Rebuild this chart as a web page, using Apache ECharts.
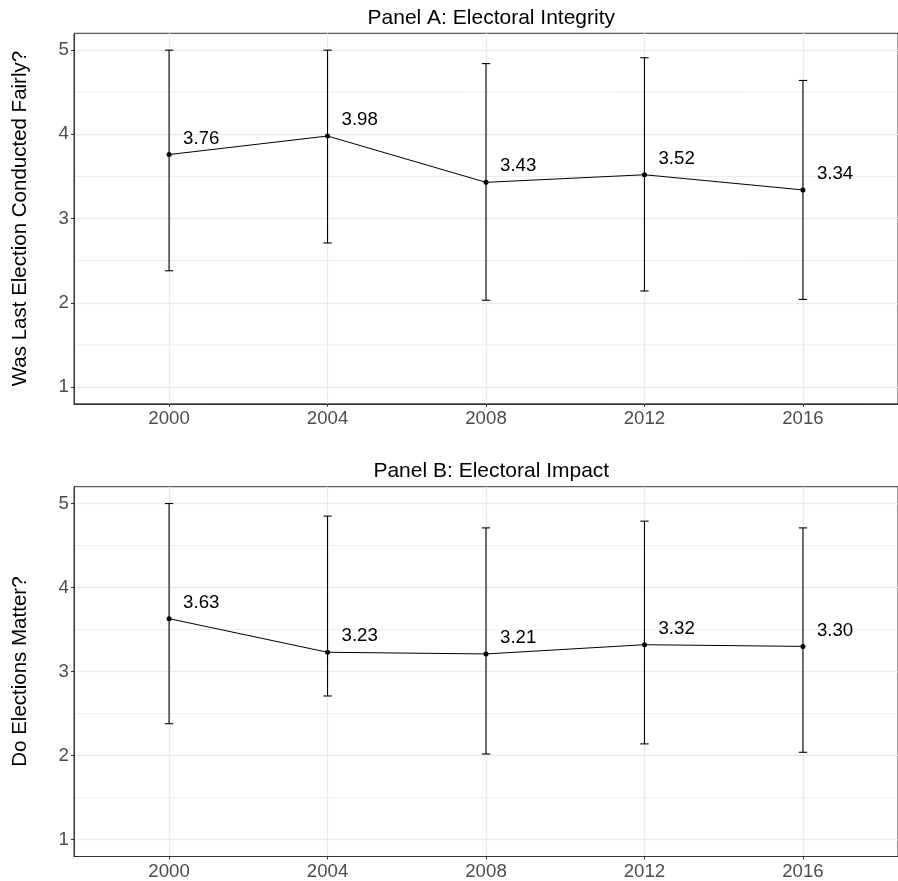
<!DOCTYPE html>
<html>
<head>
<meta charset="utf-8">
<script src="https://cdn.jsdelivr.net/npm/echarts@6/dist/echarts.min.js"></script>
<style>
  html, body { margin: 0; padding: 0; background: #fff; }
  #chart { width: 898px; height: 881px; }
</style>
</head>
<body>
<div id="chart"></div>
<script>
// Survey years
const years = [2000, 2004, 2008, 2012, 2016];

// Panel A: "Was last election conducted fairly?" — mean and interval bounds
const integrityMean = [3.76, 3.98, 3.43, 3.52, 3.34];
const integrityLow  = [2.38, 2.71, 2.03, 2.14, 2.04];
const integrityHigh = [5.00, 5.00, 4.84, 4.91, 4.64];

// Panel B: "Do elections matter?" — mean and interval bounds
const impactMean = [3.63, 3.23, 3.21, 3.32, 3.30];
const impactLow  = [2.38, 2.71, 2.02, 2.14, 2.04];
const impactHigh = [5.00, 4.85, 4.71, 4.79, 4.71];

// Axis ticks
const yTicks = [1, 2, 3, 4, 5];
const yMinor = [1.5, 2.5, 3.5, 4.5];

const FONT = "'Liberation Sans', Arial, Helvetica, sans-serif";
const GRID_COLOR = '#EBEBEB';
const AXIS_COLOR = '#333333';
const TICK_TEXT = '#4D4D4D';

const panels = [
  { title: 'Panel A: Electoral Integrity', ylab: 'Was Last Election Conducted Fairly?',
    mean: integrityMean, low: integrityLow, high: integrityHigh, top: 33.3 },
  { title: 'Panel B: Electoral Impact', ylab: 'Do Elections Matter?',
    mean: impactMean, low: impactLow, high: impactHigh, top: 486.7 }
];

const gridLeft = 74;
const gridWidth = 834.6;   // panel continues a little past the right edge
const gridHeight = 370.5;

const grids = [], xAxes = [], yAxes = [], series = [], graphics = [];

panels.forEach((p, i) => {
  grids.push({
    left: gridLeft, top: p.top, width: gridWidth, height: gridHeight,
    show: true, borderColor: AXIS_COLOR, borderWidth: 1, backgroundColor: '#fff'
  });

  xAxes.push({
    type: 'value', gridIndex: i, min: 1997.6, max: 2018.4,
    axisLine: { show: true, onZero: false, lineStyle: { color: AXIS_COLOR, width: 1 } },
    axisTick: { show: true, length: 3, customValues: years, lineStyle: { color: AXIS_COLOR } },
    axisLabel: { customValues: years, color: TICK_TEXT, fontSize: 18.67, fontFamily: FONT, margin: 5.5,
                 formatter: v => String(v) },
    splitLine: { show: true, lineStyle: { color: GRID_COLOR, width: 1.3 } }
  });

  yAxes.push({
    type: 'value', gridIndex: i, min: 0.8, max: 5.2,
    name: p.ylab, nameLocation: 'middle', nameRotate: 90, nameGap: 43,
    nameTextStyle: { fontSize: 20.5, fontFamily: FONT, color: '#000' },
    axisLine: { show: true, lineStyle: { color: AXIS_COLOR, width: 1 } },
    axisTick: { show: true, length: 3, customValues: yTicks, lineStyle: { color: AXIS_COLOR } },
    axisLabel: { customValues: yTicks, color: TICK_TEXT, fontSize: 18.67, fontFamily: FONT, margin: 5,
                 formatter: v => String(v) },
    splitLine: { show: true, lineStyle: { color: GRID_COLOR, width: 1.3 } }
  });

  // minor horizontal grid lines, drawn under the data and inside the panel border
  series.push({
    type: 'custom', xAxisIndex: i, yAxisIndex: i, z: 1, silent: true,
    data: yMinor.map(v => [v]),
    encode: { y: 0 },
    renderItem: (params, api) => {
      const cs = params.coordSys;
      const yy = api.coord([1997.6, api.value(0)])[1];
      return {
        type: 'line',
        shape: { x1: cs.x + 1.2, y1: yy, x2: cs.x + cs.width - 1.2, y2: yy },
        style: { stroke: GRID_COLOR, lineWidth: 0.9 }
      };
    }
  });

  // error bars
  series.push({
    type: 'custom', xAxisIndex: i, yAxisIndex: i, z: 3,
    data: years.map((y, k) => [y, p.low[k], p.high[k]]),
    encode: { x: 0, y: [1, 2] },
    renderItem: (params, api) => {
      const x = api.value(0);
      const lo = api.coord([x, api.value(1)]);
      const hi = api.coord([x, api.value(2)]);
      const hw = api.size([0.105, 0])[0];
      const st = { stroke: '#000', lineWidth: 1.1 };
      return {
        type: 'group',
        children: [
          { type: 'line', shape: { x1: lo[0], y1: lo[1], x2: hi[0], y2: hi[1] }, style: st },
          { type: 'line', shape: { x1: lo[0] - hw, y1: lo[1], x2: lo[0] + hw, y2: lo[1] }, style: st },
          { type: 'line', shape: { x1: hi[0] - hw, y1: hi[1], x2: hi[0] + hw, y2: hi[1] }, style: st }
        ]
      };
    }
  });

  // mean line with points and value labels
  series.push({
    type: 'line', xAxisIndex: i, yAxisIndex: i, z: 4,
    data: years.map((y, k) => [y, p.mean[k]]),
    symbol: 'circle', symbolSize: 5,
    itemStyle: { color: '#000' },
    lineStyle: { color: '#000', width: 1 },
    label: {
      show: true, position: 'right', distance: 11.5, offset: [0, -16],
      fontSize: 18.67, fontFamily: FONT, color: '#000',
      formatter: d => d.value[1].toFixed(2)
    }
  });

  graphics.push({
    type: 'text', x: gridLeft + gridWidth / 2, y: p.top - 15.5,
    style: { text: p.title, font: '21px ' + FONT, fill: '#000', align: 'center', verticalAlign: 'middle' }
  });
});

const chart = echarts.init(document.getElementById('chart'), null, { renderer: 'canvas' });
chart.setOption({
  animation: false,
  backgroundColor: '#fff',
  grid: grids,
  xAxis: xAxes,
  yAxis: yAxes,
  series: series,
  graphic: graphics
});
</script>
</body>
</html>
